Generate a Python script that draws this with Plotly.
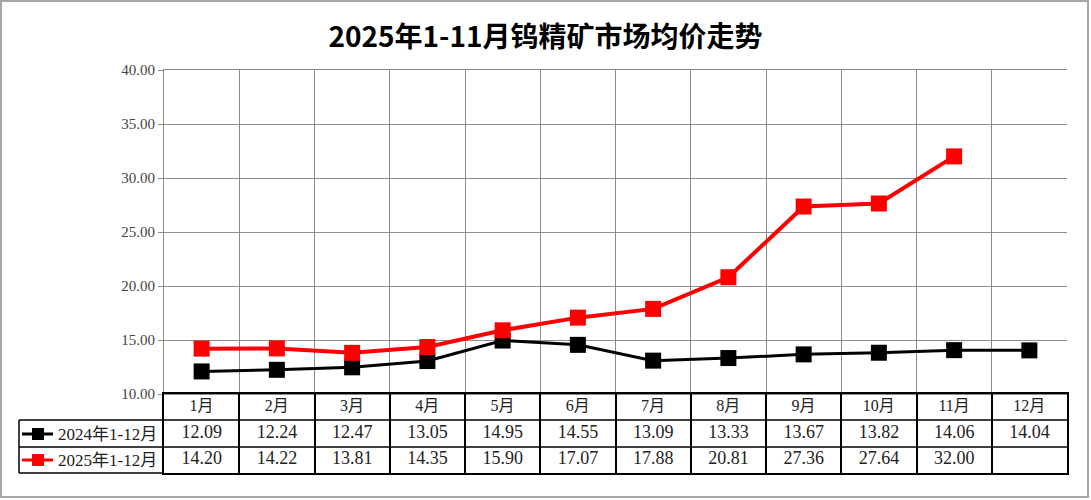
import plotly.graph_objects as go

W, H = 1091, 500

months = ['1月', '2月', '3月', '4月', '5月', '6月', '7月', '8月', '9月', '10月', '11月', '12月']
price_2024 = [12.09, 12.24, 12.47, 13.05, 14.95, 14.55, 13.09, 13.33, 13.67, 13.82, 14.06, 14.04]
price_2025 = [14.20, 14.22, 13.81, 14.35, 15.90, 17.07, 17.88, 20.81, 27.36, 27.64, 32.00, None]
series_names = ['2024年1-12月', '2025年1-12月']
series_colors = ['#000000', '#ff0000']


def px(x):
    return x / W


def py(y):
    return 1 - y / H


serif = 'Liberation Serif, Noto Sans CJK SC, serif'
grid = '#8c8c8c'

fig = go.Figure()

# main lines
for vals, name, col in zip([price_2024, price_2025], series_names, series_colors):
    fig.add_trace(go.Scatter(
        x=months, y=vals, name=name, mode='lines+markers',
        line=dict(color=col, width=3 if col == '#000000' else 4),
        marker=dict(symbol='square', size=16, color=col),
        xaxis='x', yaxis='y'
    ))

# data table text
fig.add_trace(go.Scatter(
    x=months, y=[2.5] * len(months), mode='text', text=months,
    textfont=dict(family=serif, size=16, color='#222'),
    xaxis='x2', yaxis='y2', hoverinfo='skip'
))
for row, vals in zip([1.5, 0.5], [price_2024, price_2025]):
    fig.add_trace(go.Scatter(
        x=months, y=[row] * len(months), mode='text',
        text=['' if v is None else f'{v:.2f}' for v in vals],
        textfont=dict(family=serif, size=18, color='#222'),
        xaxis='x2', yaxis='y2', hoverinfo='skip'
    ))

shapes = []
ann = []

# table borders outside the axis box
for y in [420, 447]:
    shapes.append(dict(type='line', xref='paper', yref='paper', x0=px(19), x1=px(1067),
                       y0=py(y), y1=py(y), line=dict(color='black', width=1.5)))
shapes.append(dict(type='line', xref='paper', yref='paper', x0=px(19), x1=px(164),
                   y0=py(473), y1=py(473), line=dict(color='black', width=1.5)))
shapes.append(dict(type='line', xref='paper', yref='paper', x0=px(19), x1=px(19),
                   y0=py(420), y1=py(473), line=dict(color='black', width=1.5)))

# legend keys in the table
for yc, name, col in zip([434, 460], series_names, series_colors):
    shapes.append(dict(type='line', xref='paper', yref='paper', x0=px(22), x1=px(53),
                       y0=py(yc), y1=py(yc), line=dict(color=col, width=3)))
    shapes.append(dict(type='rect', xref='paper', yref='paper', x0=px(32), x1=px(44),
                       y0=py(yc + 6), y1=py(yc - 6), fillcolor=col, line=dict(width=0)))
    ann.append(dict(xref='paper', yref='paper', x=px(56), y=py(yc), text=name,
                    showarrow=False, xanchor='left', yanchor='middle',
                    font=dict(family=serif, size=17, color='#222')))

# outer frame
shapes.append(dict(type='rect', xref='paper', yref='paper', x0=px(1), x1=px(1088),
                   y0=py(497), y1=py(1), line=dict(color='#a6a6a6', width=2)))

fig.update_layout(
    width=W, height=H,
    margin=dict(l=0, r=0, t=0, b=0, autoexpand=False),
    paper_bgcolor='white', plot_bgcolor='white',
    showlegend=False,
    title=dict(text='<b>2025年1-11月钨精矿市场均价走势</b>', x=0.5, xanchor='center',
               y=py(37), yanchor='middle',
               font=dict(family='Noto Sans CJK SC', size=28, color='black')),
    xaxis=dict(type='category', categoryorder='array', categoryarray=months,
               domain=[px(164), px(1067)], range=[-0.5, 11.5],
               showticklabels=False, ticks='', tickson='boundaries',
               showgrid=True, gridcolor=grid, gridwidth=1,
               showline=True, mirror=True, linecolor=grid, zeroline=False,
               automargin=False, anchor='y'),
    yaxis=dict(domain=[py(394), py(70)], range=[10, 40], dtick=5, tickformat='.2f',
               ticks='outside', ticklen=5, tickcolor=grid,
               showgrid=True, gridcolor=grid, gridwidth=1,
               showline=True, linecolor=grid, zeroline=False,
               tickfont=dict(family=serif, size=15, color='#444'),
               automargin=False, anchor='x'),
    xaxis2=dict(type='category', categoryorder='array', categoryarray=months,
                domain=[px(164), px(1067)], range=[-0.5, 11.5],
                showticklabels=False, ticks='', tickson='boundaries',
                showgrid=True, gridcolor='black', gridwidth=1.5,
                showline=True, mirror=True, linecolor='black', linewidth=1.5,
                zeroline=False, automargin=False, anchor='y2'),
    yaxis2=dict(domain=[py(473), py(394)], range=[0, 3],
                showticklabels=False, ticks='', showgrid=False, zeroline=False,
                showline=True, mirror=True, linecolor='black', linewidth=1.5,
                automargin=False, anchor='x2'),
    shapes=shapes,
    annotations=ann,
)

# page body margin would offset the fixed-size figure
fig.write_html('out.html', config={'displayModeBar': False},
               post_script="document.body.style.margin='0';")
